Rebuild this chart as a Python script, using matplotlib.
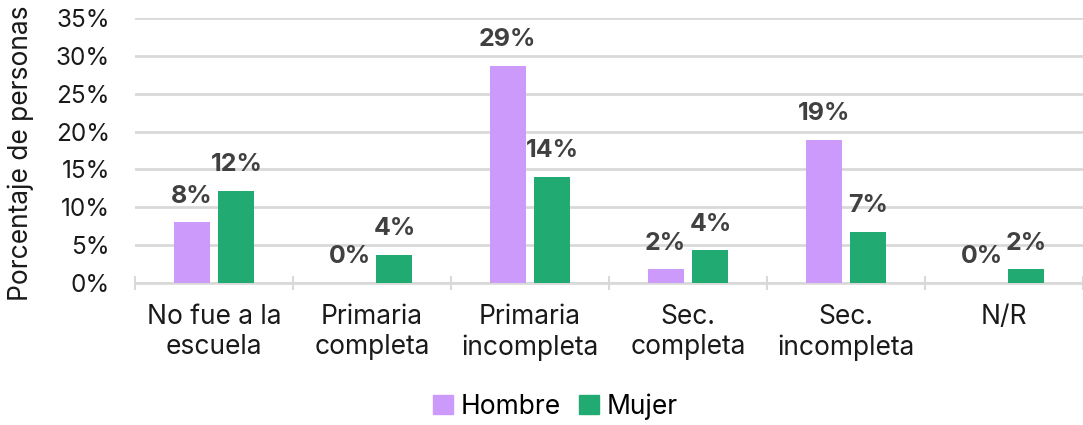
import matplotlib
matplotlib.use("Agg")
import matplotlib.pyplot as plt
import numpy as np
from matplotlib.patches import Patch

plt.rcParams['font.family'] = ['Inter', 'DejaVu Sans']

categories = ["No fue a la\nescuela", "Primaria\ncompleta", "Primaria\nincompleta",
              "Sec.\ncompleta", "Sec.\nincompleta", "N/R"]
hombre = [8.0, 0.0, 28.7, 1.8, 18.9, 0.0]
mujer = [12.2, 3.7, 14.0, 4.3, 6.7, 1.8]
series_names = ["Hombre", "Mujer"]
yticks = [0, 5, 10, 15, 20, 25, 30, 35]

c_h = "#CC9AFB"
c_m = "#22AA73"
grid_c = "#D9D9D9"
lab_c = "#404040"
txt_c = "#1a1a1a"

fig = plt.figure(figsize=(10.83, 4.25), dpi=100)
ax = fig.add_axes([0.1247, 0.334, 0.8753, 0.624])

x = np.arange(len(categories))
w = 0.228
off = 0.142
bh = ax.bar(x - off, hombre, w, color=c_h, zorder=3)
bm = ax.bar(x + off, mujer, w, color=c_m, zorder=3)

for bars, vals in ((bh, hombre), (bm, mujer)):
    for b, v in zip(bars, vals):
        ax.annotate(f"{v:.0f}%", (b.get_x() + b.get_width() / 2, v),
                    xytext=(0, 19), textcoords="offset points",
                    ha="center", va="center", fontsize=18,
                    fontweight="bold", color=lab_c)

ax.set_xlim(-0.5, len(categories) - 0.5)
ax.set_ylim(0, 35)
ax.set_yticks(yticks)
ax.set_yticklabels([f"{t}%" for t in yticks])
ax.yaxis.grid(True, color=grid_c, linewidth=2, zorder=0)
ax.set_axisbelow(True)

ax.set_xticks(x)
ax.set_xticklabels(categories, linespacing=1.22)
ax.set_xticks(np.arange(-0.5, len(categories), 0.5), minor=True)
ax.tick_params(axis="x", which="major", length=0, pad=15, labelsize=19, labelcolor=txt_c)
ax.tick_params(axis="x", which="minor", length=10, width=1.5, color=grid_c, direction="inout")
ax.tick_params(axis="y", length=0, pad=18, labelsize=17.5, labelcolor=txt_c)

for s in ("top", "right", "left"):
    ax.spines[s].set_visible(False)
ax.spines["bottom"].set_color(grid_c)
ax.spines["bottom"].set_linewidth(2)

fig.text(0.019, 0.64, "Porcentaje de personas", rotation=90, ha="center", va="center",
         fontsize=19, color=txt_c)

handles = [Patch(color=c_h, label=series_names[0]), Patch(color=c_m, label=series_names[1])]
fig.legend(handles=handles, loc="center", bbox_to_anchor=(0.513, 0.043), ncol=2,
           frameon=False, fontsize=19, handlelength=0.75, handleheight=0.75,
           handletextpad=0.3, columnspacing=0.7)

fig.savefig("out.png", dpi=100)
